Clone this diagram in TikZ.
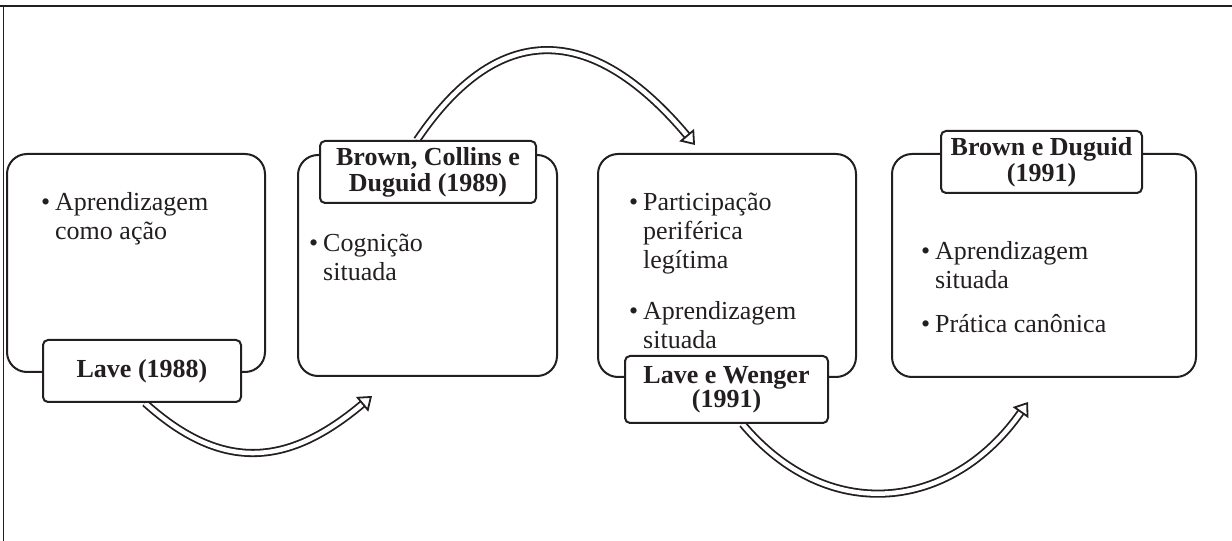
\documentclass[tikz,border=0pt]{standalone}
\usepackage{fontspec}
\setmainfont{Liberation Serif}
\usetikzlibrary{arrows.meta}
\definecolor{ink}{HTML}{231F20}
% one bulleted entry: bullet hangs left of the text block
\newcommand\itemtext[1]{\llap{\textbullet\hspace{5pt}}\begin{tabular}[t]{@{}l@{}}#1\end{tabular}}
\begin{document}
\begin{tikzpicture}[x=1pt,y=1pt,
  panel/.style={draw=ink, line width=2pt, rounded corners=20pt, inner sep=0pt},
  tag/.style={draw=ink, fill=white, text=ink, line width=2pt, rounded corners=5pt,
    inner sep=0pt, align=center, font=\fontsize{26}{26}\selectfont\bfseries},
  entry/.style={anchor=base west, inner sep=0pt, text=ink, font=\fontsize{26}{29}\selectfont},
  flow/.style={draw=ink, double=white, line width=1.8pt, double distance=4.5pt,
    -{Triangle[open, fill=white, length=13pt, width=19pt, line width=1.8pt]}},
  rule/.style={draw=ink}
]
\useasboundingbox (0,0) rectangle (1232,541);

% frame lines
\draw[rule, line width=2pt] (0,535) -- (1232,535);
\draw[rule, line width=1.2pt] (3.5,535) -- (3.5,0);

% content panels
\node[panel, minimum width=258pt, minimum height=218pt] (p1) at (136,278) {};
\node[panel, minimum width=259pt, minimum height=221pt] (p2) at (427.5,275.5) {};
\node[panel, minimum width=258pt, minimum height=223pt] (p3) at (727,275.5) {};
\node[panel, minimum width=304pt, minimum height=223pt] (p4) at (1044,275.5) {};

% bulleted entries
\node[entry] (t1) at (55,330) {\itemtext{Aprendizagem\\como ação}};
\node[entry] (t2) at (323,289) {\itemtext{Cognição\\situada}};
\node[entry] (t3a) at (643,330) {\itemtext{Participação\\periférica\\legítima}};
\node[entry] (t3b) at (643,221) {\itemtext{Aprendizagem\\situada}};
\node[entry] (t4a) at (935,281) {\itemtext{Aprendizagem\\situada}};
\node[entry] (t4b) at (935,208) {\itemtext{Prática canônica}};

% free ends of the curved arrows
\coordinate (e1) at (372,145);
\coordinate (e2) at (695,396);
\coordinate (e3) at (1028,139);

% tag outlines used as arrow anchors
\path (142,170) coordinate (c1) (428,369) coordinate (c2)
      (726.5,151.5) coordinate (c3) (1041.5,379) coordinate (c4);
\node[tag, minimum width=198pt, minimum height=62pt, draw=none, fill=none] (l1) at (c1) {\phantom{X}};
\node[tag, minimum width=216pt, minimum height=62pt, draw=none, fill=none] (l2) at (c2) {\phantom{X}};
\node[tag, minimum width=203pt, minimum height=67pt, draw=none, fill=none] (l3) at (c3) {\phantom{X}};

% curved arrows
\draw[flow] ([xshift=3pt]l1.south) to[out=-42, in=-140, looseness=1.2] (e1);
\draw[flow] ([xshift=-11pt]l2.north) to[out=56, in=130, looseness=1.4] (e2);
\draw[flow] ([xshift=16pt]l3.south) to[out=-50, in=-125, looseness=1.19] (e3);

% tags drawn over the panels and arrow ends
\node[tag, minimum width=198pt, minimum height=62pt] (n1) at (l1) {Lave (1988)};
\node[tag, minimum width=216pt, minimum height=62pt] (n2) at (l2) {Brown, Collins e\\Duguid (1989)};
\node[tag, minimum width=203pt, minimum height=67pt, font=\fontsize{26}{24}\selectfont\bfseries] (n3) at (l3) {Lave e Wenger\\(1991)};
\node[tag, minimum width=201pt, minimum height=62pt] (n4) at (c4) {Brown e Duguid\\(1991)};
\end{tikzpicture}
\end{document}
